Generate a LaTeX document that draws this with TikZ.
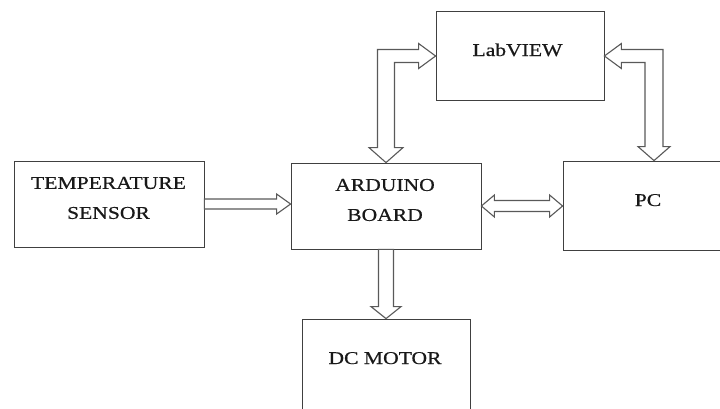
\documentclass[tikz,border=0pt]{standalone}
\usepackage{fontspec}
\setmainfont{Liberation Serif}[FakeStretch=1.2, FakeBold=0.6]
\usetikzlibrary{calc}
\tikzset{
  blk/.style={draw=black!75, line width=0.8pt, inner sep=0pt},
  lbl/.style={font=\fontsize{18}{30}\selectfont, align=center,
    inner sep=0pt, text=black!90},
  fat/.style={draw=black!65, line width=1.1pt, fill=white, line join=miter},
}

\begin{document}
\begin{tikzpicture}[x=1pt, y=-1pt]
  \useasboundingbox (0,0) rectangle (720,408);
  \clip (0,0) rectangle (720,408);
  % ---- blocks ----
  \node[blk, minimum width=190, minimum height=86] at (109,204)   (sens)  {};
  \node[blk, minimum width=190, minimum height=86] at (386,206)   (ard)   {};
  \node[blk, minimum width=168, minimum height=89] at (520,56)    (lab)   {};
  \node[blk, minimum width=182, minimum height=89] at (654,205.5) (pc)    {};
  \node[blk, minimum width=168, minimum height=110] at (386,374)  (motor) {};

  % ---- texts ----
  \node[lbl] at (108.5,198)         (sensT)  {TEMPERATURE\\SENSOR};
  \node[lbl] at (385,200)           (ardT)   {ARDUINO\\BOARD};
  \node[lbl, anchor=base] at (517.5,56) (labT) {LabVIEW};
  \node[lbl, anchor=base] at (648,206)  (pcT)  {PC};
  \node[lbl, anchor=base] at (385,364)  (motorT) {DC MOTOR};

  % ---- fat arrows ----
  % sensor -> arduino
  \draw[fat] ($(sens.east)+(0,-5)$) -- ($(ard.west|-sens.east)+(-14,-5)$)
    -- ++(0,-5) -- (ard.west|-sens.east) -- ++(-14,10) -- ++(0,-5)
    -- ($(sens.east)+(0,5)$) -- cycle;
  % arduino <-> pc
  \draw[fat] (ard.east) -- ++(13,-11) -- ++(0,5.5)
    -- ($(pc.west|-ard.east)+(-13,-5.5)$) -- ++(0,-5.5) -- (pc.west|-ard.east)
    -- ++(-13,11) -- ++(0,-5.5) -- ($(ard.east)+(13,5.5)$) -- ++(0,5.5) -- cycle;
  % arduino <-> labview
  \draw[fat] (ard.north) -- ++(17,-15) -- ++(-8.5,0)
    |- ($(lab.west)+(-17,6.5)$) -- ++(0,6) -- (lab.west) -- ++(-17,-12.5)
    -- ++(0,6) -| ($(ard.north)+(-8.5,-15)$) -- ++(-8.5,0) -- cycle;
  % labview <-> pc
  \draw[fat] (pc.north) -- ++(16,-14) -- ++(-7,0)
    |- ($(lab.east)+(17,-6.5)$) -- ++(0,-6) -- (lab.east) -- ++(17,12.5)
    -- ++(0,-6) -| ($(pc.north)+(-9,-14)$) -- ++(-7,0) -- cycle;
  % arduino -> motor
  \draw[fat] ($(ard.south)+(-7.5,0)$) -- ($(motor.north)+(-7.5,-12)$)
    -- ++(-7.5,0) -- (motor.north) -- ++(15,-12) -- ++(-7.5,0)
    -- ($(ard.south)+(7.5,0)$) -- cycle;
\end{tikzpicture}
\end{document}
